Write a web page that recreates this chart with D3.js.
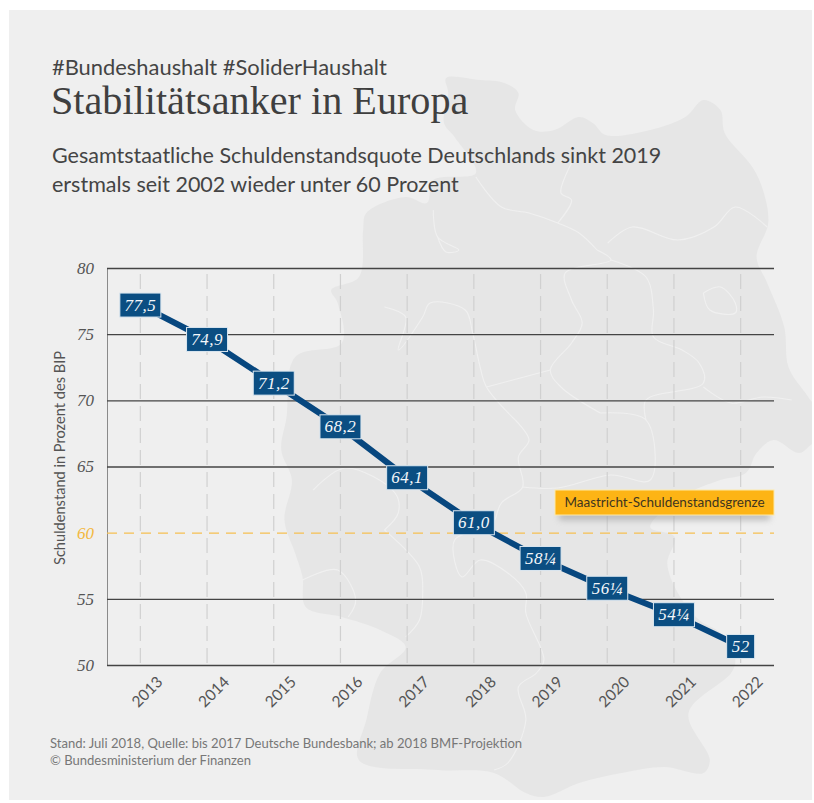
<!DOCTYPE html>
<html><head><meta charset="utf-8">
<script src="https://cdn.jsdelivr.net/npm/d3@7"></script>
<style>html,body{margin:0;padding:0;background:#fff}svg{display:block}</style>
</head><body><svg id="c" width="814" height="803"></svg>
<script>
const years = ["2013","2014","2015","2016","2017","2018","2019","2020","2021","2022"];
const debtLabels = ["77,5","74,9","71,2","68,2","64,1","61,0","58¼","56¼","54¼","52"];
const debtPlotted = [77.2,74.6,71.3,68.0,64.15,60.75,58.05,55.8,53.8,51.4];
const yTicks = [50,55,60,65,70,75,80];
const limitValue = 60;
const germanyOutline = [[435,78],[467,80],[490,83],[503,93],[500,110],[517,130],[537,130],[560,117],[573,123],[585,135],[627,130],[660,117],[677,100],[693,110],[697,133],[723,167],[733,190],[738,223],[727,257],[737,283],[753,327],[757,367],[773,393],[781,403],[795,403],[795,443],[781,443],[767,453],[743,440],[727,453],[717,473],[693,480],[660,495],[627,527],[650,537],[643,563],[653,593],[673,620],[693,633],[707,660],[703,673],[663,713],[683,760],[677,773],[640,767],[600,773],[560,783],[527,797],[510,793],[480,773],[427,770],[353,760],[360,720],[373,673],[397,647],[373,630],[337,617],[303,607],[300,577],[293,553],[283,520],[290,480],[280,450],[285,417],[293,357],[337,343],[333,303],[327,290],[353,277],[357,230],[360,213],[397,197],[417,203],[423,180],[463,173],[443,137],[433,123],[437,93]];
const stateBorders = [
 [[463,177],[487,207],[513,213],[540,223],[560,233],[577,250]],
 [[587,243],[610,227],[653,240],[687,227],[707,207],[737,227]],
 [[553,163],[543,193],[553,200],[540,223]],
 [[423,210],[427,237],[447,250],[435,252],[427,237]],
 [[577,250],[590,260],[547,273],[553,300],[563,323],[553,343],[533,370],[543,387],[580,413]],
 [[590,260],[623,277],[630,310],[630,337],[657,350],[673,363],[677,383],[623,400],[623,420]],
 [[677,387],[703,403],[733,397],[760,400]],
 [[677,293],[693,287],[707,303],[707,313],[683,310],[677,293]],
 [[377,307],[397,317],[390,350],[413,317],[420,303],[453,310],[460,333],[467,367],[473,387],[500,420]],
 [[500,420],[513,440],[503,457],[507,487],[487,503],[477,527],[443,540],[450,577],[467,560],[493,573],[510,593],[510,613],[527,660],[520,673],[503,687],[510,720],[493,763],[480,770]],
 [[300,580],[333,570],[350,600],[343,617]],
 [[377,530],[390,513],[387,493],[340,468],[310,490]],
 [[377,530],[410,567],[413,593],[410,620],[397,637]],
 [[473,387],[533,370]],
 [[580,413],[623,420],[627,480],[590,475],[540,488],[507,487]]
];
const svg = d3.select("#c");
const W = 774, L = 107, T = 268, B = 665;
const x = d3.scaleBand().domain(years).range([L, W]);
const y = d3.scaleLinear().domain([50,80]).range([B, T]);
const cx = d => x(d) + x.bandwidth()/2;
const mapX = d3.scaleLinear().domain([260,781]).range([260,814]);
const mapShape = d3.line().x(d=>mapX(d[0])).y(d=>d[1]).curve(d3.curveCatmullRomClosed.alpha(0.5));
const mapLine = d3.line().x(d=>mapX(d[0])).y(d=>d[1]).curve(d3.curveCatmullRom.alpha(0.5));
const serif = "'Liberation Serif',serif", sans = "Lato,'Noto Sans',sans-serif";

const defs = svg.append("defs");
defs.append("clipPath").attr("id","panel").append("rect").attr("x",9).attr("y",10).attr("width",803).attr("height",790);
defs.append("filter").attr("id","blur").attr("x","-10%").attr("y","-100%").attr("width","120%").attr("height","300%")
  .append("feGaussianBlur").attr("stdDeviation",3);

svg.append("rect").attr("x",9).attr("y",10).attr("width",803).attr("height",790).attr("fill","#efefef");
const map = svg.append("g").attr("clip-path","url(#panel)");
map.append("path").attr("d",mapShape(germanyOutline)).attr("fill","#e6e6e6");
map.selectAll(".b").data(stateBorders).join("path").attr("class","b").attr("d",mapLine)
  .attr("fill","none").attr("stroke","#f0f0f0").attr("stroke-width",1.1);

const txt = (s,px,py,size,fam,col,extra={}) => {
  const t = svg.append("text").attr("x",px).attr("y",py).attr("font-size",size).attr("font-family",fam).attr("fill",col).text(s);
  Object.entries(extra).forEach(([k,v])=>t.attr(k,v)); return t;
};
txt("#Bundeshaushalt #SoliderHaushalt",52,75,21.9,sans,"#444");
txt("Stabilitätsanker in Europa",51,114,40.2,serif,"#3f3f3f");
txt("Gesamtstaatliche Schuldenstandsquote Deutschlands sinkt 2019",52,163,21.5,sans,"#444");
txt("erstmals seit 2002 wieder unter 60 Prozent",52,192,21.5,sans,"#444");

svg.append("g").selectAll("line").data(years).join("line")
  .attr("x1",cx).attr("x2",cx).attr("y1",T+6).attr("y2",B)
  .attr("stroke","#d0d0d0").attr("stroke-width",1.2).attr("stroke-dasharray","15 7");

const gy = svg.append("g").attr("transform",`translate(${L},0)`)
  .call(d3.axisLeft(y).tickValues(yTicks).tickSize(-(W-L)).tickPadding(13));
gy.select(".domain").attr("stroke","#8a8a8a").attr("stroke-width",1).attr("d",`M0.5,${T}V${B}`);
gy.selectAll(".tick line").attr("stroke",d=>d===limitValue?"#f6c052":"#444")
  .attr("stroke-width",d=>d===limitValue?1.4:1.3).attr("stroke-dasharray",d=>d===limitValue?"10 7":null);
gy.selectAll(".tick text").attr("font-family",serif).attr("font-style","italic").attr("font-size",17)
  .attr("fill",d=>d===limitValue?"#f3b840":"#555");

const gx = svg.append("g").attr("transform",`translate(0,${B})`).call(d3.axisBottom(x).tickSize(0));
gx.select(".domain").remove();
gx.selectAll(".tick text").attr("font-family",sans).attr("font-size",15.5).attr("fill","#555")
  .attr("text-anchor","middle").attr("transform","translate(7,27) rotate(-45)").attr("y",5).attr("dy",0);

txt("Schuldenstand in Prozent des BIP",0,0,14.6,sans,"#555",{transform:"translate(65,458) rotate(-90)","text-anchor":"middle"});

const line = d3.line().x((d,i)=>cx(years[i])).y(d=>y(d));
svg.append("path").attr("d",line(debtPlotted)).attr("fill","none").attr("stroke","#07477f").attr("stroke-width",6);
const lab = svg.append("g").selectAll("g").data(debtPlotted).join("g")
  .attr("transform",(d,i)=>`translate(${cx(years[i])},${y(d)})`);
lab.append("rect").attr("x",(d,i)=>debtLabels[i].length<3?-14:-20.5).attr("width",(d,i)=>debtLabels[i].length<3?28:41)
  .attr("y",-12).attr("height",24).attr("fill","#0b4e82").attr("stroke","#dbe7f0").attr("stroke-width",1);
lab.append("text").text((d,i)=>debtLabels[i]).attr("text-anchor","middle").attr("y",5.5)
  .attr("font-family",serif).attr("font-style","italic").attr("font-size",17).attr("letter-spacing",0.5).attr("fill","#f4f7fa");

const bx = 555, by = 490, bw = 219, bh = 25;
svg.append("rect").attr("x",bx+4).attr("y",by+bh-3).attr("width",bw-8).attr("height",8).attr("fill","#999").attr("opacity",.6).attr("filter","url(#blur)");
svg.append("rect").attr("x",bx).attr("y",by).attr("width",bw).attr("height",bh).attr("fill","#fdb415").attr("stroke","#fde9a8").attr("stroke-width",1);
txt("Maastricht-Schuldenstandsgrenze",bx+bw/2,by+17,13.5,sans,"#3d3520",{"text-anchor":"middle"});

txt("Stand: Juli 2018, Quelle: bis 2017 Deutsche Bundesbank; ab 2018 BMF-Projektion",50,748,13.05,sans,"#777");
txt("© Bundesministerium der Finanzen",50,765,13.05,sans,"#777");
</script></body></html>
